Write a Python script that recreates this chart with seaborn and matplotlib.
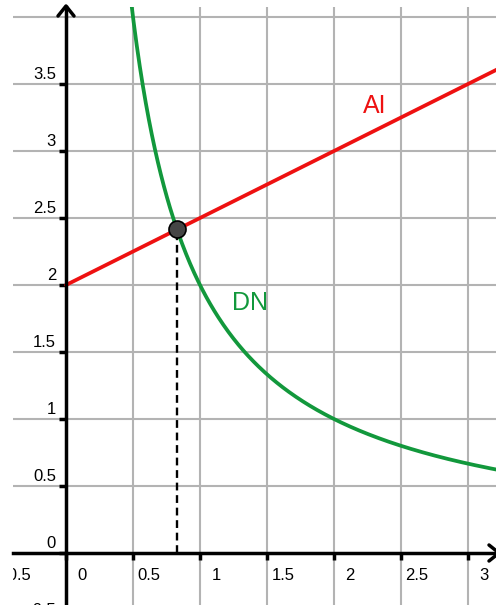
import numpy as np
import pandas as pd
import seaborn as sns
import matplotlib.pyplot as plt

# Model: line AI = a + b*x and curve DN = k / x
ai_intercept = 2.0
ai_slope = 0.5
dn_constant = 2.0

x_tick_values = [-0.5, 0, 0.5, 1, 1.5, 2, 2.5, 3]
x_tick_labels = ["\u22120.5", "0", "0.5", "1", "1.5", "2", "2.5", "3"]
y_tick_values = [-0.5, 0, 0.5, 1, 1.5, 2, 2.5, 3, 3.5]
y_tick_labels = ["\u22120.5", "0", "0.5", "1", "1.5", "2", "2.5", "3", "3.5"]
grid_x_values = [-0.5, 0.5, 1, 1.5, 2, 2.5, 3]
grid_y_values = [-0.5, 0.5, 1, 1.5, 2, 2.5, 3, 3.5, 4]

curve_names = ["AI", "DN"]
curve_colors = {"AI": "#ee1111", "DN": "#12983c"}

sns.set_theme(style="ticks")
plt.rcParams["font.family"] = ["Liberation Sans", "DejaVu Sans"]

W, H, DPI = 496, 605, 100
PX = 134.0  # pixels per data unit (equal on both axes)

fig = plt.figure(figsize=(W / DPI, H / DPI), dpi=DPI)
left_px, top_px = 13, 7
ax = fig.add_axes([left_px / W, 0, (W - left_px) / W, (H - top_px) / H])
x0_px, y0_px = 66, 553

# grid
for gx in grid_x_values:
    ax.axvline(gx, color="#b3b3b3", lw=1.5, zorder=0)
for gy in grid_y_values:
    ax.axhline(gy, color="#b3b3b3", lw=1.5, zorder=0)

# curves
x_ai = np.linspace(0, 3.4, 200)
x_dn = np.linspace(0.4, 3.4, 400)
df = pd.concat([
    pd.DataFrame({"x": x_ai, "y": ai_intercept + ai_slope * x_ai, "curve": "AI"}),
    pd.DataFrame({"x": x_dn, "y": dn_constant / x_dn, "curve": "DN"}),
])
sns.lineplot(data=df, x="x", y="y", hue="curve", palette=curve_colors,
             linewidth=2.7, legend=False, sort=False, estimator=None, ax=ax, zorder=4)

# intersection of the two curves
xe = (-ai_intercept + np.sqrt(ai_intercept**2 + 4 * ai_slope * dn_constant)) / (2 * ai_slope)
ye = ai_intercept + ai_slope * xe
ax.plot([xe, xe], [0, ye], color="black", lw=1.7, ls=(0, (3.3, 2.0)), zorder=3)
sns.scatterplot(x=[xe], y=[ye], s=150, color="#454545", edgecolor="black",
                linewidth=1.2, ax=ax, zorder=6, legend=False)

# axes through the origin
for side in ["top", "right"]:
    ax.spines[side].set_visible(False)
for side in ["left", "bottom"]:
    ax.spines[side].set_position(("data", 0))
    ax.spines[side].set_color("black")
    ax.spines[side].set_linewidth(2.5)
    ax.spines[side].set_zorder(5)
ax.set_xticks(x_tick_values)
ax.set_yticks(y_tick_values)
ax.set_xticklabels([])
ax.set_yticklabels([])
ax.tick_params(direction="out", length=5, width=2.5, color="black",
               bottom=True, left=True)
ax.set_xlabel("")
ax.set_ylabel("")

# fixed view window (set after the ticks, which would otherwise widen it)
ax.set_xlim((left_px - x0_px) / PX, (W - x0_px) / PX)
ax.set_ylim((y0_px - H) / PX, (y0_px - top_px) / PX)

# arrowheads on the axes
p = 1 / PX
tip_y = (y0_px - 6) * p
a1, = ax.plot([-8 * p, 0, 8 * p], [tip_y - 10 * p, tip_y, tip_y - 10 * p],
              color="black", lw=2.5, zorder=5, solid_capstyle="round")
tip_x = (499 - x0_px) * p
a2, = ax.plot([tip_x - 10 * p, tip_x, tip_x - 10 * p], [8 * p, 0, -8 * p],
              color="black", lw=2.5, zorder=5, solid_capstyle="round")
for a in (a1, a2):
    a.set_clip_box(fig.bbox)
    a.set_clip_path(None)
ax.set_xlim((left_px - x0_px) / PX, (W - x0_px) / PX)
ax.set_ylim((y0_px - H) / PX, (y0_px - top_px) / PX)

# tick labels
texts = []
for xv, lab in zip(x_tick_values, x_tick_labels):
    texts.append(ax.text(xv + 16 * p, -27 * p, lab, ha="center", va="baseline",
                         fontsize=12, color="black"))
for yv, lab in zip(y_tick_values, y_tick_labels):
    texts.append(ax.text(-10 * p, yv + 5 * p, lab, ha="right", va="baseline",
                         fontsize=12, color="black"))
for t in texts:
    t.set_clip_on(True)
    t.set_clip_box(ax.bbox)

# curve names
ax.text(2.306, 3.336, curve_names[0], color=curve_colors["AI"], fontsize=18,
        ha="center", va="center")
ax.text(1.373, 1.869, curve_names[1], color=curve_colors["DN"], fontsize=18,
        ha="center", va="center")

fig.savefig("out.png", dpi=DPI)
